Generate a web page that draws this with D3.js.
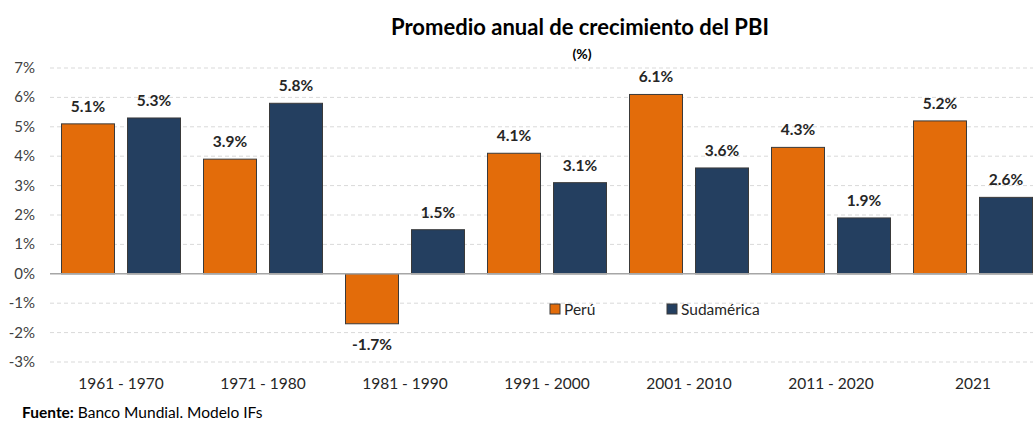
<!DOCTYPE html>
<html>
<head>
<meta charset="utf-8">
<script src="https://cdn.jsdelivr.net/npm/d3@7"></script>
<style>
  body{margin:0;background:#fff;font-family:Lato,"Open Sans",sans-serif;}
  svg{display:block;}
</style>
</head>
<body>
<script>
var categories = ["1961 - 1970","1971 - 1980","1981 - 1990","1991 - 2000","2001 - 2010","2011 - 2020","2021"];
var seriesNames = ["Perú","Sudamérica"];
var peru = [5.1, 3.9, -1.7, 4.1, 6.1, 4.3, 5.2];
var sudamerica = [5.3, 5.8, 1.5, 3.1, 3.6, 1.9, 2.6];
var yTicks = [-3,-2,-1,0,1,2,3,4,5,6,7];
var colors = ["#E36C0A","#243F60"];

var width = 1033, height = 422;
var svg = d3.select("body").append("svg")
    .attr("width", width)
    .attr("height", height);

var x = d3.scaleBand()
    .domain(categories)
    .range([50, 1044])
    .paddingInner(0)
    .paddingOuter(0);

var x1 = d3.scaleBand()
    .domain(seriesNames)
    .range([11.5, x.bandwidth()-11.5])
    .paddingInner(0.197);

var y = d3.scaleLinear()
    .domain([-3, 7])
    .range([362, 68]);

// gridlines
svg.selectAll(".grid")
    .data(yTicks.filter(function(d){ return d !== 0; }))
  .enter().append("line")
    .attr("x1", 50).attr("x2", width)
    .attr("y1", function(d){ return y(d); })
    .attr("y2", function(d){ return y(d); })
    .style("stroke", "#d9d9d9")
    .style("stroke-dasharray", "4,3")
    .style("stroke-width", 1);

// y tick labels
svg.selectAll(".ylab")
    .data(yTicks)
  .enter().append("text")
    .attr("x", 35)
    .attr("y", function(d){ return y(d) + 5; })
    .attr("text-anchor", "end")
    .style("font-size", "15px")
    .style("fill", "#404040")
    .text(function(d){ return d + "%"; });

var data = categories.map(function(c, i){
  return [{s: seriesNames[0], v: peru[i], c: c}, {s: seriesNames[1], v: sudamerica[i], c: c}];
});

var groups = svg.selectAll(".grp")
    .data(data)
  .enter().append("g")
    .attr("transform", function(d, i){ return "translate(" + x(categories[i]) + ",0)"; });

groups.selectAll("rect")
    .data(function(d){ return d; })
  .enter().append("rect")
    .attr("x", function(d){ return x1(d.s); })
    .attr("width", x1.bandwidth())
    .attr("y", function(d){ return y(Math.max(0, d.v)); })
    .attr("height", function(d){ return Math.abs(y(d.v) - y(0)); })
    .style("fill", function(d, i){ return colors[i]; })
    .style("stroke", "#3a3a3a")
    .style("stroke-width", 1);

groups.selectAll(".val")
    .data(function(d){ return d; })
  .enter().append("text")
    .attr("x", function(d){ return x1(d.s) + x1.bandwidth()/2; })
    .attr("y", function(d){ return d.v >= 0 ? y(d.v) - 12 : y(d.v) + 26; })
    .attr("text-anchor", "middle")
    .style("font-size", "15.5px")
    .style("font-weight", "bold")
    .style("fill", "#262626")
    .text(function(d){ return d.v.toFixed(1) + "%"; });

// zero line
svg.append("line")
    .attr("x1", 50).attr("x2", width)
    .attr("y1", y(0)).attr("y2", y(0))
    .style("stroke", "#a6a6a6")
    .style("stroke-width", 1.5);

// x labels
svg.selectAll(".xlab")
    .data(categories)
  .enter().append("text")
    .attr("x", function(d){ return x(d) + x.bandwidth()/2; })
    .attr("y", 389)
    .attr("text-anchor", "middle")
    .style("font-size", "15.5px")
    .style("fill", "#262626")
    .text(String);

// title
svg.append("text")
    .attr("x", 580).attr("y", 35)
    .attr("text-anchor", "middle")
    .style("font-size", "22px")
    .style("font-weight", "bold")
    .style("fill", "#000")
    .text("Promedio anual de crecimiento del PBI");
svg.append("text")
    .attr("x", 582).attr("y", 59)
    .attr("text-anchor", "middle")
    .style("font-size", "14px")
    .style("font-weight", "bold")
    .style("fill", "#000")
    .text("(%)");

// legend
var legendX = [550, 667];
var legend = svg.selectAll(".leg")
    .data(seriesNames)
  .enter().append("g")
    .attr("transform", function(d, i){ return "translate(" + legendX[i] + ",304)"; });
legend.append("rect")
    .attr("width", 10).attr("height", 10)
    .style("fill", function(d, i){ return colors[i]; })
    .style("stroke", "#3a3a3a");
legend.append("text")
    .attr("x", 14).attr("y", 11)
    .style("font-size", "15.5px")
    .style("fill", "#262626")
    .text(String);

// source
var src = svg.append("text")
    .attr("x", 22).attr("y", 418)
    .style("font-size", "15.5px")
    .style("fill", "#000");
src.append("tspan").style("font-weight", "bold").text("Fuente:");
src.append("tspan").text(" Banco Mundial. Modelo IFs");
</script>
</body>
</html>
